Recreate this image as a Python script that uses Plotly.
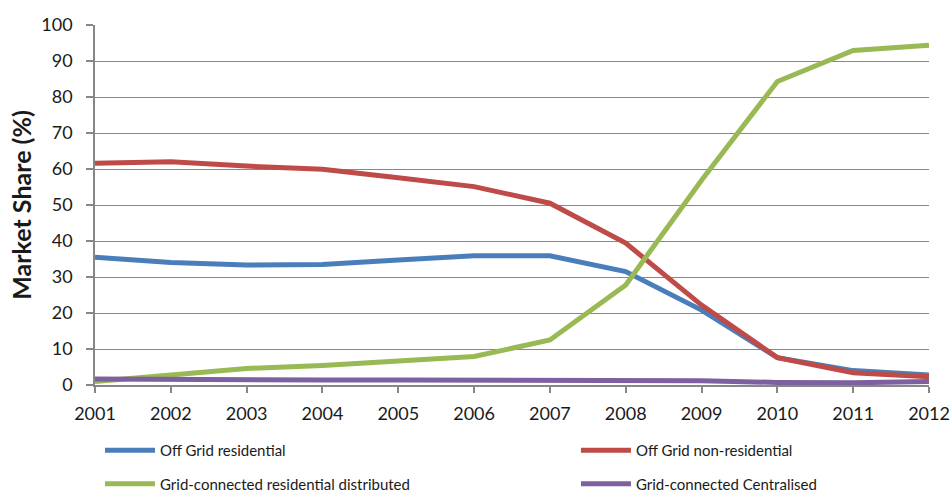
import plotly.graph_objects as go

years = list(range(2001, 2013))
off_grid_res = [35.5, 34.0, 33.3, 33.5, 34.7, 35.9, 35.9, 31.5, 20.8, 7.6, 4.0, 2.8]
off_grid_nonres = [61.6, 62.0, 60.8, 59.9, 57.6, 55.1, 50.5, 39.4, 22.2, 7.6, 3.4, 2.3]
grid_res_dist = [1.0, 2.8, 4.6, 5.4, 6.8, 7.9, 12.5, 27.8, 56.9, 84.3, 92.9, 94.4]
grid_central = [1.7, 1.5, 1.5, 1.4, 1.4, 1.3, 1.4, 1.3, 1.2, 0.7, 0.6, 1.0]

series = [
    ("Off Grid residential", off_grid_res, "#4A7EBB", "legend"),
    ("Off Grid non-residential", off_grid_nonres, "#BE4B48", "legend2"),
    ("Grid-connected residential distributed", grid_res_dist, "#98B954", "legend"),
    ("Grid-connected Centralised", grid_central, "#7D60A0", "legend2"),
]

FONT = "Lato, 'Open Sans', sans-serif"
GRID = "#878787"
TEXT = "#1a1a1a"

fig = go.Figure()
for i, (name, vals, color, lg) in enumerate(series):
    fig.add_trace(go.Scatter(
        x=years, y=vals, name=name, mode="lines",
        line=dict(color=color, width=5),
        legend=lg, legendgroup=name,
    ))

legend_common = dict(
    orientation="v", xanchor="left", yanchor="top",
    font=dict(family=FONT, size=15, color=TEXT),
    itemwidth=50, traceorder="grouped", tracegroupgap=11,
    bgcolor="rgba(0,0,0,0)", borderwidth=0,
)

fig.update_layout(
    width=952, height=492,
    margin=dict(l=95, r=23, t=25, b=107, autoexpand=False),
    paper_bgcolor="white", plot_bgcolor="white",
    font=dict(family=FONT, color=TEXT),
    legend=dict(x=0.006, y=-0.136, **legend_common),
    legend2=dict(x=0.5767, y=-0.136, **legend_common),
    xaxis=dict(
        range=[2001, 2012], tickvals=years, ticktext=[str(y) for y in years],
        showgrid=False, zeroline=False,
        showline=True, linecolor=GRID, linewidth=1.5,
        ticks="outside", ticklen=6, tickcolor=GRID, tickwidth=1.5,
        tickfont=dict(family=FONT, size=18, color=TEXT),
        ticklabelstandoff=6,
    ),
    yaxis=dict(
        range=[0, 100], dtick=10, tick0=0,
        showgrid=True, gridcolor=GRID, gridwidth=1.3, zeroline=False,
        showline=True, linecolor=GRID, linewidth=1.5,
        ticks="outside", ticklen=7, tickcolor=GRID, tickwidth=1.5,
        tickfont=dict(family=FONT, size=18, color=TEXT),
        ticklabelstandoff=10,
        title=dict(text="<b>Market Share (%)</b>",
                   font=dict(family=FONT, size=25, color=TEXT), standoff=3),
    ),
)

fig.write_html("out.html")
